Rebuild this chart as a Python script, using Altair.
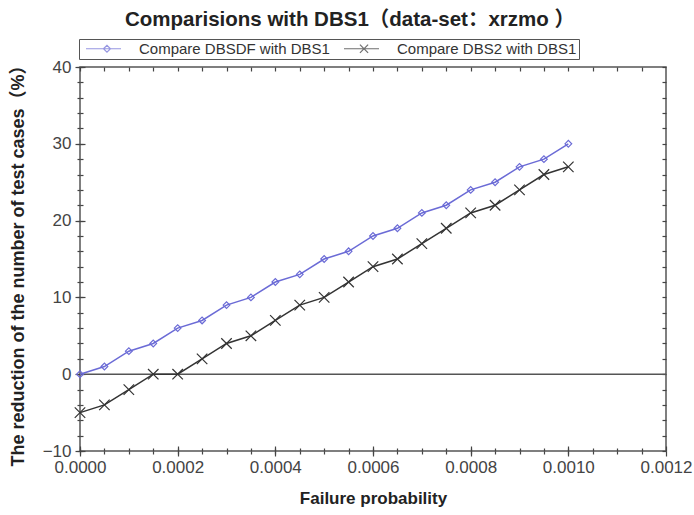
import altair as alt
import pandas as pd

# ---- data ----
failure_prob = [0.0, 0.00005, 0.0001, 0.00015, 0.0002, 0.00025, 0.0003, 0.00035, 0.0004, 0.00045,
                0.0005, 0.00055, 0.0006, 0.00065, 0.0007, 0.00075, 0.0008, 0.00085, 0.0009, 0.00095, 0.001]
dbsdf_vs_dbs1 = [0, 1, 3, 4, 6, 7, 9, 10, 12, 13, 15, 16, 18, 19, 21, 22, 24, 25, 27, 28, 30]
dbs2_vs_dbs1 = [-5, -4, -2, 0, 0, 2, 4, 5, 7, 9, 10, 12, 14, 15, 17, 19, 21, 22, 24, 26, 27]
series_names = ["Compare DBSDF with DBS1", "Compare DBS2 with DBS1"]
x_major = [0.0, 0.0002, 0.0004, 0.0006, 0.0008, 0.0010, 0.0012]
x_minor = [i * 0.00005 for i in range(25)]
y_major = [-10, 0, 10, 20, 30, 40]
y_minor = list(range(-10, 41, 2))

rows = []
for name, vals in zip(series_names, [dbsdf_vs_dbs1, dbs2_vs_dbs1]):
    for xv, yv in zip(failure_prob, vals):
        rows.append({"x": xv, "y": yv, "series": name})
df = pd.DataFrame(rows)

W, H = 586, 384
FONT = "Liberation Sans, Arial, Noto Sans CJK SC"
AX = "#555555"
TK = "#444444"
BLUE = "#6b6bd6"
DARK = "#333333"

xscale = alt.Scale(domain=[0, 0.0012], nice=False, zero=False)
yscale = alt.Scale(domain=[-10, 40], nice=False, zero=False)
cscale = alt.Scale(domain=series_names, range=[BLUE, DARK])

# legend symbols: a short line with the series marker on it
leg_diamond = "M-0.42,0L5.42,0M2.5,0L3.08,-0.58L3.66,0L3.08,0.58Z"
leg_x = "M-0.42,0L5.42,0M2.24,-0.68L3.6,0.68M2.24,0.68L3.6,-0.68"
sscale = alt.Scale(domain=series_names, range=[leg_diamond, leg_x])

def hidden():
    return dict(labels=False, domain=False, grid=False, title=None, ticks=True,
                tickColor=TK, tickWidth=1.2)

base = alt.Chart(df)

def series_layers(name, color, shape, size):
    sub = base.transform_filter(alt.datum.series == name)
    ln = sub.mark_line(strokeWidth=1.5, color=color).encode(
        x=alt.X("x:Q", scale=xscale, axis=None),
        y=alt.Y("y:Q", scale=yscale, axis=None),
    )
    pt = sub.mark_point(shape=shape, size=size, filled=False, strokeWidth=1.2,
                        opacity=1, color=color).encode(
        x=alt.X("x:Q", scale=xscale, axis=None),
        y=alt.Y("y:Q", scale=yscale, axis=None),
    )
    return [ln, pt]

data_layers = (series_layers(series_names[0], BLUE, "diamond", 45)
               + series_layers(series_names[1], DARK, "M-1,-1L1,1M-1,1L1,-1", 110))

zero_rule = alt.Chart(pd.DataFrame({"z": [0]})).mark_rule(color=AX, strokeWidth=1.5).encode(
    y=alt.Y("z:Q", scale=yscale, axis=None)
)

leg_common = dict(
    orient="none", legendX=-1, legendY=-28, direction="horizontal", title=None,
    columns=2, gridAlign="all",
    padding=2, strokeColor=AX, fillColor="white", symbolSize=144, symbolStrokeWidth=1.2,
    labelFont=FONT, labelFontSize=15, labelColor="#333333", labelOffset=43,
    columnPadding=9, labelLimit=400,
)

# legend-only layer: its points sit outside the clipped plot area
legend_layer = base.transform_calculate(yy="datum.y + 1000").mark_point(
    filled=False, size=144, strokeWidth=1.2, clip=True
).encode(
    x=alt.X("x:Q", scale=xscale, axis=None),
    y=alt.Y("yy:Q", scale=yscale, axis=None),
    color=alt.Color("series:N", scale=cscale, legend=alt.Legend(**leg_common)),
    shape=alt.Shape("series:N", scale=sscale, legend=alt.Legend(**leg_common)),
)

def axis_layer(xaxis, yaxis):
    return base.transform_calculate(yy="datum.y + 1000").mark_point(clip=True).encode(
        x=alt.X("x:Q", scale=xscale, axis=xaxis),
        y=alt.Y("yy:Q", scale=yscale, axis=yaxis),
    )

x_main = alt.Axis(
    orient="bottom", values=x_major, format=".4f", ticks=True, tickSize=5, tickColor=TK,
    tickWidth=1.2, domain=False, grid=False, labelFlush=False, labelFont=FONT,
    labelFontSize=17, labelColor="#444444", labelPadding=3, title="Failure probability",
    titleFont=FONT, titleFontSize=17, titleFontWeight="bold", titleColor="#222222",
    titleX=W / 2, titleY=47, titleBaseline="middle", titleAlign="center",
)
y_main = alt.Axis(
    orient="left", values=y_major, ticks=True, tickSize=5, tickColor=TK, tickWidth=1.2,
    domain=False, grid=False, labelFlush=False, labelFont=FONT, labelFontSize=17,
    labelColor="#444444", labelPadding=4,
    title="The reduction of the number of test cases（%）", titleFont=FONT,
    titleFontSize=18, titleFontWeight="bold", titleColor="#222222", titleX=-62, titleY=194,
    titleAngle=270, titleBaseline="middle", titleAlign="center",
)

axis_layers = [
    axis_layer(x_main, y_main),
    # outward minor ticks (bottom, left)
    axis_layer(alt.Axis(orient="bottom", values=x_minor, tickSize=3, **hidden()),
               alt.Axis(orient="left", values=y_minor, tickSize=3, **hidden())),
    # inward major ticks on bottom and left edges (crossing ticks)
    axis_layer(alt.Axis(orient="top", offset=-H, values=x_major, tickSize=5, **hidden()),
               alt.Axis(orient="right", offset=-W, values=y_major, tickSize=5, **hidden())),
    # inward minor ticks on bottom and left edges
    axis_layer(alt.Axis(orient="top", offset=-H, values=x_minor, tickSize=3, **hidden()),
               alt.Axis(orient="right", offset=-W, values=y_minor, tickSize=3, **hidden())),
    # inward ticks on top and right edges
    axis_layer(alt.Axis(orient="bottom", offset=-H, values=x_minor, tickSize=4, **hidden()),
               alt.Axis(orient="left", offset=-W, values=y_minor, tickSize=4, **hidden())),
]

chart = alt.layer(
    *axis_layers, zero_rule, *data_layers, legend_layer
).resolve_axis(
    x="independent", y="independent"
).properties(
    width=W, height=H,
    padding={"left": 80, "top": 67, "right": 28, "bottom": 64},
    autosize=alt.AutoSizeParams(type="none"),
    title=alt.TitleParams(
        "Comparisions with DBS1（data-set：xrzmo ）", font=FONT, fontSize=20.5, fontWeight="bold",
        color="#222222", anchor="middle", dx=-23, dy=22, offset=14, baseline="alphabetic",
    ),
    background="white",
).configure_view(
    stroke=AX, strokeWidth=1.5
)

chart.save("out.html", embed_options={"renderer": "svg", "actions": False})
